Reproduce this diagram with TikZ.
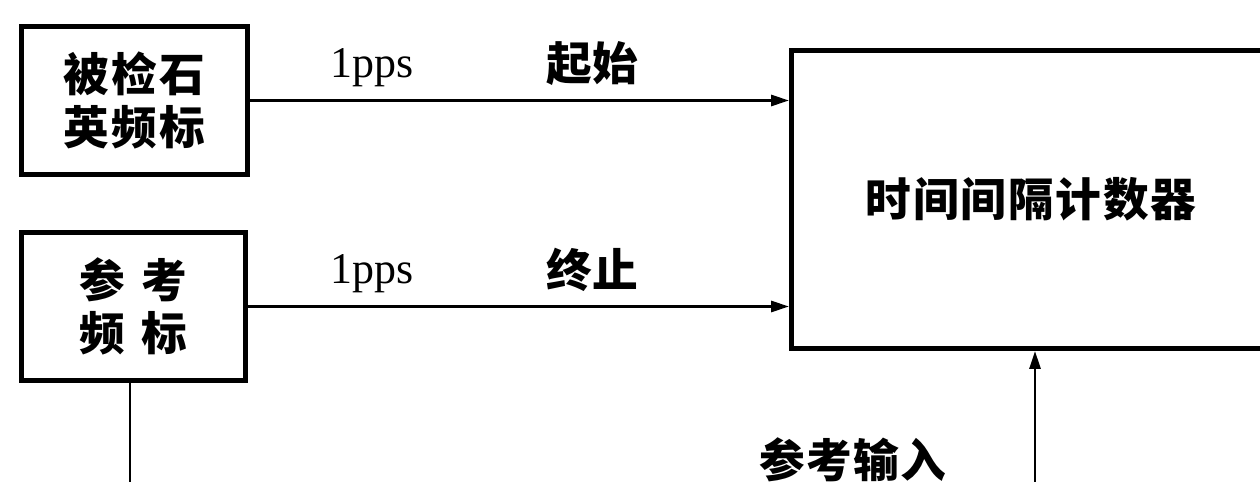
\documentclass[tikz,border=0pt]{standalone}
\usepackage{fontspec}
\setmainfont{Liberation Serif}
\newfontfamily\cjk{Noto Sans CJK SC}
\usetikzlibrary{arrows.meta}
\begin{document}
\begin{tikzpicture}[x=0.02cm,y=-0.02cm,
  box/.style={draw,line width=2.85pt,inner sep=0pt},
  conn/.style={line width=1.6pt},
  arr/.style={conn,-{Triangle[length=0.36cm,width=0.22cm]}},
  zh/.style={font=\cjk\bfseries\fontsize{26}{30}\selectfont},
  lbl/.style={font=\fontsize{25}{30}\selectfont}]
\useasboundingbox (0,0) rectangle (1260,482);
\node[box,zh,align=center,minimum width=4.52cm,minimum height=2.96cm] (src) at (134.5,100.5)
  {被\hspace{0.04cm}检\hspace{0.04cm}石\\英\hspace{0.04cm}频\hspace{0.04cm}标};
\node[box,zh,align=center,minimum width=4.48cm,minimum height=2.96cm] (ref) at (133.5,306.5)
  {参\hspace{0.32cm}考\\频\hspace{0.32cm}标};
\node[box,zh,minimum width=9.58cm,minimum height=5.96cm] (cnt) at (1031,199.5)
  {时\hspace{0.035cm}间\hspace{0.035cm}间\hspace{0.035cm}隔\hspace{0.035cm}计\hspace{0.035cm}数\hspace{0.035cm}器};
\draw[arr] (src.east) -- (src.east -| cnt.west);
\draw[arr] (ref.east) -- (ref.east -| cnt.west);
\node[lbl,anchor=base] (p1) at (372,78) {1pps};
\node[lbl,anchor=base] (p2) at (372,284) {1pps};
\node[zh] (start) at (592,64) {起始};
\node[zh] (stop) at (592,270) {终止};
\node[zh] (refin) at (853,460) {参\hspace{0.03cm}考\hspace{0.03cm}输\hspace{0.03cm}入};
\coordinate (rbot) at (1035,500);
\draw[arr] (rbot) -- (rbot |- cnt.south);
\coordinate (lbot) at (130,500);
\draw[conn] (lbot |- ref.south) -- (lbot);
\end{tikzpicture}
\end{document}
